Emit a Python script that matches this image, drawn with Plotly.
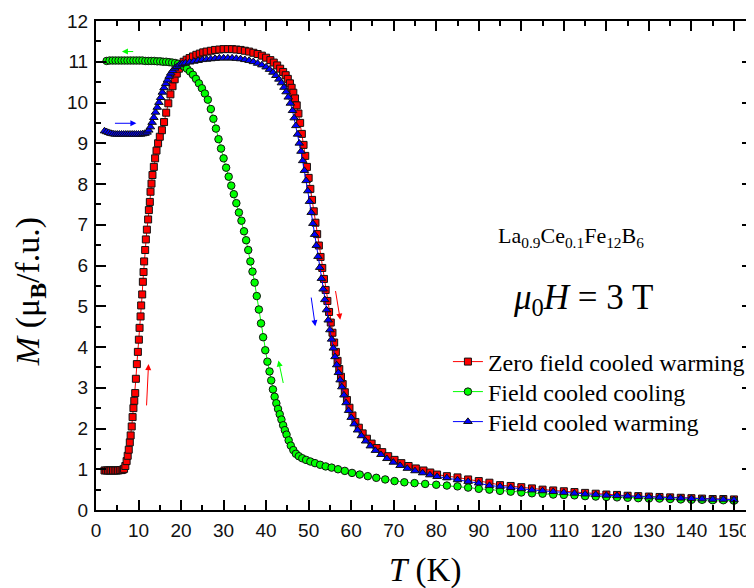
import plotly.graph_objects as go

# ---------------- data ----------------
zfc_T = [2.0, 2.4, 2.8, 3.2, 3.6, 4.0, 4.4, 4.8, 5.2, 5.6, 6.0, 6.3, 6.6, 6.9, 7.2, 7.45, 7.7, 7.95,
         8.15, 8.4, 8.6, 8.8, 9.0, 9.22, 9.38, 9.61, 9.85, 10.08, 10.24, 10.48, 10.62, 10.86, 11.02,
         11.18, 11.32, 11.56, 11.72, 11.96, 12.26, 12.43, 12.66, 12.82, 13.05, 13.28, 13.6, 13.9,
         14.23, 14.6, 15.0, 15.5, 16.0, 16.5, 17.0, 17.5, 18.0, 18.5, 19.0, 19.5, 20.0, 20.6, 21.3,
         22.0, 22.8, 23.6, 24.4, 25.2, 26.0, 27, 28, 29, 30, 31, 32, 33, 34, 35, 36, 37, 38, 39, 40,
         41, 41.8, 42.6, 43.3, 44.0, 44.6, 45.1, 45.6, 46.0, 46.4, 46.8, 47.2, 47.6, 48.0, 48.4, 48.8,
         49.2, 49.6, 50.0, 50.4, 50.8, 51.2, 51.6, 52.0, 52.4, 52.8, 53.2, 53.6, 54.0, 54.4, 54.8,
         55.2, 55.6, 56.0, 56.4, 56.8, 57.2, 57.6, 58.0, 58.5, 59.0, 59.6, 60.3, 61.0, 61.8, 62.7,
         63.7, 64.8, 66.0, 67.3, 68.7, 70.2, 71.8, 73.5, 75.2, 77.0, 78.6, 80.2,
         82.5, 85, 87.5, 90, 92.5, 95, 97.5, 100, 102.5, 105, 107.5, 110, 112.5, 115, 117.5, 120,
         122.5, 125, 127.5, 130, 132.5, 135, 137.5, 140, 142.5, 145, 147.5, 150]
zfc_M = [0.97, 0.97, 0.97, 0.97, 0.97, 0.97, 0.97, 0.97, 0.97, 0.98, 0.98, 0.99, 1.01, 1.08, 1.2,
         1.33, 1.48, 1.66, 1.83, 2.05, 2.28, 2.5, 2.68, 2.87, 3.22, 3.58, 3.88, 4.18, 4.47, 4.75,
         5.02, 5.29, 5.6, 5.84, 6.1, 6.38, 6.64, 6.88, 7.13, 7.36, 7.56, 7.81, 8.01, 8.22, 8.42,
         8.63, 8.82, 9.0, 9.16, 9.32, 9.52, 9.75, 9.98, 10.2, 10.4, 10.57, 10.71, 10.83, 10.92,
         11.0, 11.05, 11.09, 11.13, 11.17, 11.2, 11.23, 11.25, 11.27, 11.29, 11.3, 11.31, 11.31,
         11.31, 11.3, 11.29, 11.27, 11.25, 11.22, 11.19, 11.15, 11.1, 11.04, 10.98, 10.91, 10.83,
         10.75, 10.67, 10.58, 10.47, 10.36, 10.24, 10.1, 9.93, 9.73, 9.5, 9.23, 8.96, 8.69, 8.42,
         8.15, 7.88, 7.61, 7.33, 7.05, 6.77, 6.49, 6.21, 5.94, 5.67, 5.4, 5.13, 4.86, 4.6, 4.35,
         4.11, 3.88, 3.66, 3.46, 3.27, 3.09, 2.89, 2.7, 2.51, 2.32, 2.16, 2.02, 1.88, 1.75, 1.63,
         1.52, 1.42, 1.32, 1.23, 1.15, 1.08, 1.02, 0.97, 0.92, 0.87, 0.83, 0.8, 0.75, 0.71, 0.67,
         0.61, 0.59, 0.56, 0.53, 0.5, 0.48, 0.46, 0.44, 0.42, 0.4, 0.38, 0.37, 0.35, 0.34, 0.33,
         0.32, 0.31, 0.3, 0.29, 0.28, 0.27, 0.27, 0.26]

fcc_T = [2.5, 3.2, 3.9, 4.6, 5.3, 6.0, 6.7, 7.4, 8.1, 8.8, 9.5, 10.2, 10.9, 11.6, 12.3, 13.0, 13.7,
         14.4, 15.1, 15.8, 16.5, 17.2, 17.9, 18.6, 19.3, 20.0, 20.7, 21.4, 22.1, 22.8, 23.5, 24.2,
         24.9, 25.6, 26.3, 27.0, 27.6, 28.2, 28.8, 29.4, 30.0, 30.6, 31.2, 31.8, 32.4, 33.0, 33.6,
         34.2, 34.8, 35.3, 35.8, 36.3, 36.8, 37.3, 37.8, 38.3, 38.8, 39.3, 39.8, 40.3, 40.8, 41.2,
         41.6, 42.0, 42.4, 42.8, 43.2, 43.6, 44.0, 44.4, 44.8, 45.3, 45.8, 46.4, 47.0, 47.7, 48.5,
         49.4, 50.4, 51.5, 52.7, 54.0, 55.4, 56.9, 58.5, 60.2, 62.0, 63.9, 65.9, 68.0, 70.2, 72.5,
         74.9, 77.4, 80.0,
         82.5, 85, 87.5, 90, 92.5, 95, 97.5, 100, 102.5, 105, 107.5, 110, 112.5, 115, 117.5, 120,
         122.5, 125, 127.5, 130, 132.5, 135, 137.5, 140, 142.5, 145, 147.5, 150]
fcc_M = [11.02, 11.03, 11.03, 11.03, 11.03, 11.03, 11.03, 11.03, 11.03, 11.03, 11.03, 11.03, 11.03,
         11.02, 11.02, 11.02, 11.02, 11.01, 11.01, 11.0, 11.0, 10.99, 10.98, 10.97, 10.95, 10.92,
         10.88, 10.83, 10.76, 10.68, 10.58, 10.47, 10.35, 10.22, 10.07, 9.84, 9.6, 9.36, 9.1,
         8.87, 8.63, 8.4, 8.18, 7.96, 7.75, 7.53, 7.3, 7.1, 6.84, 6.62, 6.38, 6.1, 5.85, 5.58,
         5.25, 4.92, 4.58, 4.24, 3.92, 3.64, 3.4, 3.18, 2.96, 2.78, 2.62, 2.48, 2.35, 2.22, 2.08,
         1.96, 1.85, 1.71, 1.58, 1.47, 1.38, 1.32, 1.27, 1.23, 1.19, 1.15, 1.11, 1.07, 1.04, 1.0,
         0.96, 0.91, 0.87, 0.83, 0.79, 0.75, 0.71, 0.68, 0.66, 0.64, 0.62,
         0.6, 0.58, 0.55, 0.52, 0.5, 0.47, 0.45, 0.43, 0.41, 0.4, 0.38, 0.37, 0.36, 0.34, 0.33,
         0.32, 0.31, 0.3, 0.29, 0.28, 0.28, 0.27, 0.26, 0.25, 0.25, 0.24, 0.24, 0.23]

fcw_T = [2.0, 2.5, 3.0, 3.5, 4.0, 4.5, 5.0, 5.5, 6.0, 6.5, 7.0, 7.5, 8.0, 8.5, 9.0, 9.5, 10.0, 10.5,
         11.0, 11.5, 12.0, 12.4, 12.8, 13.2, 13.6, 14.0, 14.4, 14.8, 15.2, 15.6, 16.0, 16.4, 16.8,
         17.2, 17.6, 18.0, 18.5, 19.0, 19.6, 20.3, 21.0, 22, 23, 24, 25, 26, 27, 28, 29, 30, 31, 32,
         33, 34, 35, 36, 37, 38, 39, 40, 40.8, 41.6, 42.3, 43.0, 43.6, 44.2, 44.7, 45.2, 45.7, 46.2,
         46.6, 47.0, 47.4, 47.8, 48.2, 48.6, 49.0, 49.4, 49.8, 50.2, 50.6, 51.0, 51.4, 51.8, 52.2,
         52.6, 53.0, 53.4, 53.8, 54.2, 54.6, 55.0, 55.4, 55.8, 56.2, 56.6, 57.0, 57.4, 57.8, 58.3,
         58.8, 59.4, 60.0, 60.7, 61.5, 62.4, 63.4, 64.5, 65.7, 67.0, 68.4, 69.9, 71.5, 73.2, 75.0,
         76.8, 78.5, 80.2,
         82.5, 85, 87.5, 90, 92.5, 95, 97.5, 100, 102.5, 105, 107.5, 110, 112.5, 115, 117.5, 120,
         122.5, 125, 127.5, 130, 132.5, 135, 137.5, 140, 142.5, 145, 147.5, 150]
fcw_M = [9.3, 9.28, 9.26, 9.24, 9.23, 9.22, 9.22, 9.22, 9.22, 9.22, 9.22, 9.22, 9.22, 9.22, 9.22,
         9.22, 9.22, 9.22, 9.23, 9.24, 9.27, 9.32, 9.4, 9.51, 9.63, 9.76, 9.88, 10.0, 10.12, 10.25,
         10.36, 10.46, 10.55, 10.64, 10.72, 10.78, 10.84, 10.88, 10.92, 10.95, 10.97, 10.99, 11.01,
         11.03, 11.05, 11.06, 11.07, 11.08, 11.09, 11.09, 11.09, 11.09, 11.08, 11.07, 11.05, 11.03,
         11.0, 10.96, 10.92, 10.87, 10.81, 10.74, 10.66, 10.57, 10.48, 10.37, 10.26, 10.13, 9.98,
         9.8, 9.62, 9.43, 9.22, 9.0, 8.8, 8.57, 8.33, 8.08, 7.83, 7.57, 7.3, 7.03, 6.76, 6.49, 6.22,
         5.95, 5.68, 5.42, 5.16, 4.91, 4.66, 4.42, 4.19, 3.97, 3.76, 3.56, 3.37, 3.19, 3.02, 2.82,
         2.63, 2.44, 2.27, 2.11, 1.96, 1.82, 1.69, 1.57, 1.46, 1.36, 1.26, 1.17, 1.09, 1.02, 0.96,
         0.91, 0.86, 0.82,
         0.79, 0.74, 0.7, 0.66, 0.6, 0.58, 0.55, 0.52, 0.49, 0.47, 0.45, 0.43, 0.41, 0.39, 0.38,
         0.36, 0.35, 0.34, 0.33, 0.32, 0.31, 0.3, 0.29, 0.28, 0.27, 0.26, 0.26, 0.25]

series_names = ["Zero field cooled warming", "Field cooled cooling", "Field cooled warming"]
series_colors = ["#ff0000", "#00ff00", "#0000ff"]
series_symbols = ["square", "circle", "triangle-up"]

# arrows: tail -> head, in data units
arrow_tail_T = [9.1, 4.1, 11.87, 44.1, 50.55, 56.26]
arrow_tail_M = [11.25, 9.49, 2.53, 3.08, 5.25, 5.41]
arrow_head_T = [6.1, 9.5, 12.35, 42.9, 51.56, 57.43]
arrow_head_M = [11.25, 9.49, 3.58, 3.67, 4.51, 4.67]
arrow_colors = ["#00ff00", "#0000ff", "#ff0000", "#00ff00", "#0000ff", "#ff0000"]

x_ticks = list(range(0, 151, 10))
y_ticks = list(range(0, 13, 1))

# ---------------- geometry (page has an 8px body margin) ----------------
OFF = 8
W, H = 754 - OFF, 588 - OFF
ML, MR, MT, MB = 88, 0, 13, 78
PW, PH = W - ML - MR, H - MT - MB


def px(wx):  # window x pixel -> paper x
    return (wx - OFF - ML) / PW


def py(wy):  # window y pixel -> paper y
    return (MT + PH - (wy - OFF)) / PH


SERIF = "Liberation Serif, Times New Roman, serif"
SANS = "Liberation Sans, Arial, sans-serif"

fig = go.Figure()
legend_ids = ["legend", "legend2", "legend3"]
for T, M, name, col, sym, sz, lg in zip([zfc_T, fcc_T, fcw_T], [zfc_M, fcc_M, fcw_M],
                                         series_names, series_colors, series_symbols,
                                         [7, 7.5, 7.5], legend_ids):
    fig.add_trace(go.Scatter(
        x=T, y=M, name=name, mode="lines+markers",
        line=dict(color=col, width=1),
        marker=dict(symbol=sym, size=sz, color=col, line=dict(color="#111111", width=1)),
        legend=lg,
    ))

annotations = []
for tT, tM, hT, hM, c in zip(arrow_tail_T, arrow_tail_M, arrow_head_T, arrow_head_M, arrow_colors):
    annotations.append(dict(x=hT, y=hM, ax=tT, ay=tM, xref="x", yref="y", axref="x", ayref="y",
                            text="", showarrow=True, arrowhead=2, arrowsize=1.2, arrowwidth=1,
                            arrowcolor=c))

annotations += [
    dict(text="<i>T</i> (K)", xref="paper", yref="paper", x=px(426), y=py(570),
         xanchor="center", yanchor="middle", showarrow=False,
         font=dict(family=SERIF, size=33, color="black")),
    dict(text="<i>M</i> (μ<sub><b>B</b></sub>/f.u.)", xref="paper", yref="paper", x=px(30), y=py(292),
         xanchor="center", yanchor="middle", textangle=-90, showarrow=False,
         font=dict(family=SERIF, size=34, color="black")),
    dict(text="La<sub>0.9</sub>Ce<sub>0.1</sub>Fe<sub>12</sub>B<sub>6</sub>", xref="paper", yref="paper",
         x=px(572), y=py(237), xanchor="center", yanchor="middle", showarrow=False,
         font=dict(family=SERIF, size=22, color="black")),
    dict(text="<i>μ</i><sub>0</sub><i>H</i> = 3 T", xref="paper", yref="paper",
         x=px(584), y=py(299), xanchor="center", yanchor="middle", showarrow=False,
         font=dict(family=SERIF, size=35, color="black")),
]

legend_style = dict(xanchor="left", yanchor="middle", bgcolor="rgba(0,0,0,0)",
                    font=dict(family=SERIF, size=24, color="black"), itemwidth=30)
legend_rows = [362, 392, 422]

axis_common = dict(showline=True, linecolor="black", linewidth=2, mirror="allticks",
                   ticks="inside", ticklen=10, tickwidth=1.5, tickcolor="black",
                   showgrid=False, zeroline=False, ticklabelstandoff=2,
                   tickfont=dict(family=SANS, size=19, color="#111111"))

fig.update_layout(
    width=W, height=H,
    margin=dict(l=ML, r=MR, t=MT, b=MB),
    paper_bgcolor="white", plot_bgcolor="white",
    showlegend=True,
    legend=dict(x=px(449), y=py(legend_rows[0]), **legend_style),
    legend2=dict(x=px(449), y=py(legend_rows[1]), **legend_style),
    legend3=dict(x=px(449), y=py(legend_rows[2]), **legend_style),
    xaxis=dict(range=[0, PW / 4.266], tickvals=x_ticks,
               minor=dict(dtick=5, ticks="inside", ticklen=5, tickwidth=1.5, tickcolor="black"),
               **axis_common),
    yaxis=dict(range=[0, 12], tickvals=y_ticks,
               minor=dict(dtick=0.5, ticks="inside", ticklen=5, tickwidth=1.5, tickcolor="black"),
               **axis_common),
    annotations=annotations,
)

fig.write_html("out.html")
